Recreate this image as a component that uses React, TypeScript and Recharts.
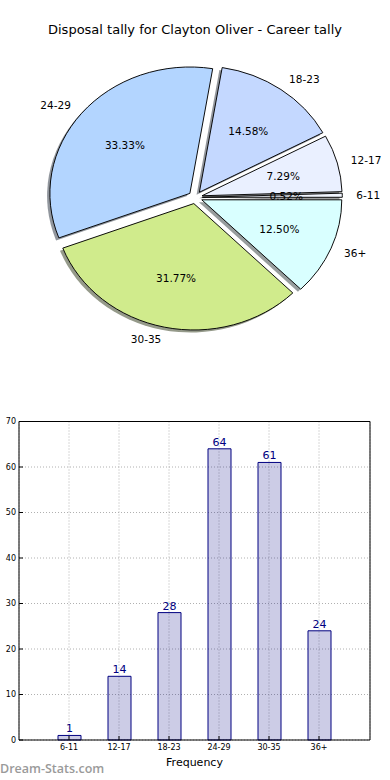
import { PieChart, Pie, Sector, BarChart, Bar, XAxis, YAxis, CartesianGrid, LabelList, Label } from "recharts";

const AGE_GROUPS = ["6-11", "12-17", "18-23", "24-29", "30-35", "36+"];
const DISPOSAL_COUNTS = [1, 14, 28, 64, 61, 24];
const COUNT_TICKS = [0, 10, 20, 30, 40, 50, 60, 70];
const TITLE = "Disposal tally for Clayton Oliver - Career tally";

const SLICE_COLORS = ["#f2f6ff", "#eaf0ff", "#c4d8ff", "#b3d5ff", "#d0eb8c", "#d9ffff"];

const tally = AGE_GROUPS.map((name, i) => ({ name, value: DISPOSAL_COUNTS[i] }));
const total = DISPOSAL_COUNTS.reduce((a, b) => a + b, 0);

const FONT = "'DejaVu Sans', sans-serif";
const RAD = Math.PI / 180;
// old matplotlib pie: not axis('equal'), so it comes out a bit wider than tall
const X_STRETCH = 140 / 126.4;
const EXPLODE = 0.05;
const SHADOW = 0.02;

function shade(hex: string) {
  const n = parseInt(hex.slice(1), 16);
  const r = Math.round(((n >> 16) & 255) * 0.3);
  const g = Math.round(((n >> 8) & 255) * 0.3);
  const b = Math.round((n & 255) * 0.3);
  return `rgb(${r},${g},${b})`;
}

function wedgeTransform(p: any, dx = 0, dy = 0) {
  const r = p.outerRadius;
  const ox = EXPLODE * r * Math.cos(p.midAngle * RAD) + dx;
  const oy = -EXPLODE * r * Math.sin(p.midAngle * RAD) + dy;
  return `translate(${p.cx} ${p.cy}) scale(${X_STRETCH} 1) translate(${ox} ${oy}) translate(${-p.cx} ${-p.cy})`;
}

const renderShadow = (p: any) => (
  <g transform={wedgeTransform(p, -SHADOW * p.outerRadius, SHADOW * p.outerRadius)}>
    <Sector
      cx={p.cx}
      cy={p.cy}
      innerRadius={0}
      outerRadius={p.outerRadius}
      startAngle={p.startAngle}
      endAngle={p.endAngle}
      fill={shade(SLICE_COLORS[p.index])}
      fillOpacity={0.55}
      stroke="none"
    />
  </g>
);

const renderWedge = (p: any) => (
  <g transform={wedgeTransform(p)}>
    <Sector
      cx={p.cx}
      cy={p.cy}
      innerRadius={0}
      outerRadius={p.outerRadius}
      startAngle={p.startAngle}
      endAngle={p.endAngle}
      fill={SLICE_COLORS[p.index]}
      stroke="#000"
      strokeWidth={0.9}
    />
  </g>
);

const renderText = (p: any) => {
  const r = p.outerRadius;
  const c = Math.cos(p.midAngle * RAD);
  const s = Math.sin(p.midAngle * RAD);
  const ex = p.cx + X_STRETCH * EXPLODE * r * c;
  const ey = p.cy - EXPLODE * r * s;
  const pct = ((p.percent ?? DISPOSAL_COUNTS[p.index] / total) * 100).toFixed(2) + "%";
  return (
    <g>
      <text
        x={ex + X_STRETCH * 1.1 * r * c}
        y={ey - 1.1 * r * s}
        textAnchor={c >= 0 ? "start" : "end"}
        dominantBaseline="central"
        fontSize={10.5}
        fontFamily={FONT}
        fill="#000"
      >
        {AGE_GROUPS[p.index]}
      </text>
      <text
        x={ex + X_STRETCH * 0.6 * r * c}
        y={ey - 0.6 * r * s}
        textAnchor="middle"
        dominantBaseline="central"
        fontSize={10.5}
        fontFamily={FONT}
        fill="#000"
      >
        {pct}
      </text>
    </g>
  );
};

export default function App() {
  const pieProps = {
    data: tally,
    dataKey: "value",
    nameKey: "name",
    cx: 195.3,
    cy: 197.4,
    innerRadius: 0,
    outerRadius: 126.4,
    startAngle: 0,
    endAngle: 360,
    fill: "none",
    stroke: "none",
    labelLine: false,
    isAnimationActive: false,
  };

  return (
    <div style={{ position: "absolute", left: 0, top: 0, width: 390, height: 780, background: "#fff", fontFamily: FONT }}>
      <div style={{ position: "absolute", top: 22, left: 0, width: 390, textAlign: "center", fontSize: 13, lineHeight: "16px", color: "#000" }}>
        {TITLE}
      </div>

      <div style={{ position: "absolute", top: 0, left: 0 }}>
        <PieChart width={390} height={380} margin={{ top: 0, right: 0, bottom: 0, left: 0 }}>
          <Pie {...pieProps} label={renderShadow} />
          <Pie {...pieProps} label={renderWedge} />
          <Pie {...pieProps} label={renderText} />
        </PieChart>
      </div>

      <div style={{ position: "absolute", top: 400, left: 0 }}>
        <BarChart width={390} height={380} data={tally} margin={{ top: 20.5, right: 19, bottom: 12, left: 0 }}>
          <CartesianGrid stroke="#b0b0b0" strokeDasharray="1 2" />
          <XAxis
            dataKey="name"
            padding={{ left: 25, right: 26 }}
            height={28}
            tickSize={-4}
            tickMargin={8}
            interval={0}
            stroke="#000"
            tick={{ fontSize: 8, fill: "#000", fontFamily: FONT }}
          >
            <Label value="Frequency" position="insideBottom" offset={2} fontSize={11} fill="#000" fontFamily={FONT} />
          </XAxis>
          <XAxis
            xAxisId="top"
            orientation="top"
            dataKey="name"
            padding={{ left: 25, right: 26 }}
            height={1}
            tickSize={-4}
            interval={0}
            tick={false}
            stroke="#000"
          />
          <YAxis
            type="number"
            domain={[0, 70]}
            ticks={COUNT_TICKS}
            width={19}
            tickSize={-4}
            tickMargin={7}
            interval={0}
            stroke="#000"
            tick={{ fontSize: 8, fill: "#000", fontFamily: FONT }}
          />
          <YAxis
            yAxisId="right"
            orientation="right"
            type="number"
            domain={[0, 70]}
            ticks={COUNT_TICKS}
            width={1}
            tickSize={-4}
            interval={0}
            tick={false}
            stroke="#000"
          />
          <Bar
            dataKey="value"
            barSize={23}
            fill="#000080"
            fillOpacity={0.2}
            stroke="#000080"
            strokeWidth={1}
            isAnimationActive={false}
          >
            <LabelList dataKey="value" position="top" offset={3} fill="#000080" fontSize={11} fontFamily={FONT} />
          </Bar>
        </BarChart>
      </div>

      <div style={{ position: "absolute", top: 761, left: 0, fontFamily: "'Open Sans', sans-serif", fontSize: 12.5, lineHeight: "15px", fontWeight: 600, color: "#9a9a9a" }}>
        Dream-Stats.com
      </div>
    </div>
  );
}
